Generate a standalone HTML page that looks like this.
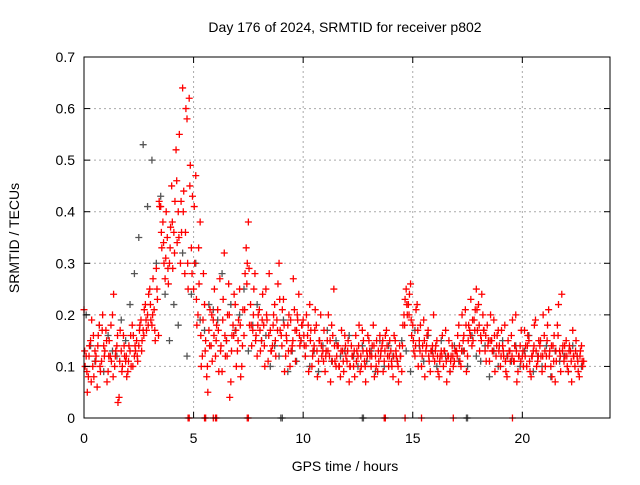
<!DOCTYPE html>
<html><head><meta charset="utf-8"><style>
body{margin:0;background:#fff;font-family:"Liberation Sans",sans-serif}
svg text{font-family:"Liberation Sans",sans-serif;font-size:14px;fill:#000}
</style></head><body>
<svg id="chart" width="640" height="480" xmlns="http://www.w3.org/2000/svg">
<rect width="640" height="480" fill="#fff"/>
<g id="grid"></g><g id="pts"></g><g id="axes"></g>
<text x="345" y="32" text-anchor="middle">Day 176 of 2024, SRMTID for receiver p802</text>
<text x="345" y="471" text-anchor="middle">GPS time / hours</text>
<text transform="translate(19,238) rotate(-90)" text-anchor="middle">SRMTID / TECUs</text>
</svg>
<script>
const xTicks=[0,5,10,15,20];
const yTicks=[0,0.1,0.2,0.3,0.4,0.5,0.6,0.7];
const yTickLabels=["0","0.1","0.2","0.3","0.4","0.5","0.6","0.7"];
const seriesAStart=0, seriesAStep=0.1;
const seriesA=[0.21,0.12,0.08,0.15,0.10,0.13,0.06,0.18,0.11,0.14,
0.17,0.09,0.12,0.20,0.10,0.14,0.04,0.13,0.16,0.11,
0.09,0.13,0.18,0.12,0.15,0.14,0.19,0.17,0.22,0.20,
0.25,0.18,0.21,0.29,0.16,0.41,0.38,0.27,0.35,0.30,
0.45,0.36,0.52,0.40,0.30,0.64,0.28,0.58,0.62,0.33,
0.25,0.47,0.20,0.38,0.12,0.22,0.08,0.17,0.14,0.19,
0.12,0.21,0.27,0.09,0.32,0.15,0.26,0.07,0.18,0.22,
0.13,0.25,0.10,0.16,0.33,0.38,0.22,0.17,0.28,0.12,
0.21,0.15,0.18,0.25,0.11,0.17,0.14,0.22,0.19,0.30,
0.16,0.23,0.12,0.18,0.10,0.14,0.21,0.17,0.24,0.15,
0.19,0.12,0.16,0.22,0.10,0.14,0.18,0.11,0.20,0.13,
0.09,0.15,0.12,0.18,0.25,0.10,0.14,0.08,0.13,0.16,
0.11,0.07,0.14,0.10,0.16,0.12,0.09,0.17,0.11,0.13,
0.15,0.10,0.18,0.12,0.09,0.16,0.14,0.11,0.17,0.10,
0.13,0.08,0.15,0.11,0.14,0.09,0.20,0.25,0.22,0.26,
0.18,0.12,0.22,0.15,0.10,0.19,0.13,0.17,0.09,0.14,
0.11,0.15,0.08,0.13,0.10,0.17,0.12,0.09,0.14,0.11,
0.13,0.18,0.10,0.15,0.21,0.12,0.17,0.14,0.19,0.25,
0.22,0.16,0.20,0.13,0.18,0.11,0.15,0.19,0.12,0.17,
0.10,0.14,0.18,0.08,0.13,0.16,0.11,0.20,0.09,0.14,
0.12,0.17,0.10,0.15,0.08,0.13,0.19,0.11,0.14,0.09,
0.16,0.12,0.21,0.10,0.14,0.07,0.18,0.13,0.24,0.11,
0.15,0.09,0.13,0.17,0.10,0.12,0.08,0.14,0.11];
const seriesBStart=0.05, seriesBStep=0.1;
const seriesB=[0.10,0.05,0.14,0.19,0.08,0.12,0.16,0.09,0.20,0.13,
0.07,0.15,0.11,0.24,0.13,0.03,0.17,0.10,0.12,0.08,
0.14,0.10,0.16,0.13,0.11,0.18,0.15,0.21,0.17,0.24,
0.19,0.27,0.15,0.23,0.41,0.33,0.30,0.40,0.26,0.37,
0.29,0.42,0.34,0.55,0.36,0.44,0.60,0.25,0.49,0.43,
0.30,0.18,0.26,0.10,0.28,0.15,0.05,0.21,0.11,0.25,
0.18,0.09,0.14,0.23,0.12,0.20,0.04,0.16,0.24,0.10,
0.19,0.08,0.21,0.28,0.30,0.18,0.14,0.25,0.16,0.20,
0.13,0.24,0.10,0.19,0.28,0.13,0.20,0.12,0.26,0.17,
0.21,0.09,0.15,0.20,0.13,0.27,0.11,0.19,0.14,0.18,
0.14,0.20,0.09,0.17,0.13,0.21,0.08,0.15,0.12,0.17,
0.13,0.20,0.07,0.16,0.11,0.14,0.10,0.17,0.09,0.12,
0.15,0.10,0.12,0.08,0.13,0.18,0.10,0.15,0.07,0.16,
0.12,0.14,0.08,0.15,0.11,0.13,0.09,0.16,0.12,0.15,
0.10,0.16,0.12,0.07,0.12,0.18,0.23,0.20,0.24,0.16,
0.13,0.21,0.10,0.18,0.14,0.08,0.16,0.11,0.13,0.20,
0.14,0.09,0.12,0.16,0.13,0.07,0.15,0.12,0.10,0.13,
0.16,0.11,0.20,0.13,0.09,0.18,0.23,0.15,0.21,0.17,
0.13,0.24,0.17,0.11,0.15,0.20,0.13,0.09,0.16,0.14,
0.17,0.12,0.09,0.15,0.11,0.19,0.14,0.07,0.12,0.17,
0.10,0.14,0.16,0.09,0.12,0.18,0.10,0.15,0.12,0.20,
0.10,0.18,0.13,0.08,0.16,0.11,0.22,0.09,0.14,0.12,
0.10,0.14,0.07,0.12,0.15,0.09,0.13,0.10];
const seriesCStart=0.03, seriesCStep=0.1;
const seriesC=[0.13,0.09,0.12,0.07,0.16,0.11,0.14,0.10,0.17,0.12,
0.15,0.12,0.18,0.08,0.12,0.16,0.11,0.09,0.14,0.12,
0.11,0.16,0.10,0.14,0.12,0.17,0.13,0.16,0.19,0.18,
0.22,0.20,0.17,0.25,0.42,0.36,0.34,0.31,0.29,0.33,
0.38,0.32,0.46,0.35,0.42,0.40,0.36,0.30,0.45,0.28,
0.41,0.23,0.33,0.16,0.19,0.13,0.10,0.14,0.20,0.16,
0.15,0.17,0.13,0.19,0.16,0.12,0.20,0.13,0.16,0.17,
0.15,0.18,0.14,0.21,0.26,0.29,0.18,0.20,0.15,0.18,
0.17,0.19,0.14,0.20,0.16,0.13,0.18,0.15,0.17,0.23,
0.14,0.18,0.16,0.13,0.19,0.15,0.17,0.20,0.16,0.18,
0.16,0.14,0.18,0.15,0.12,0.17,0.13,0.15,0.14,0.11,
0.12,0.13,0.15,0.11,0.14,0.12,0.10,0.13,0.11,0.14,
0.13,0.10,0.12,0.13,0.11,0.14,0.12,0.13,0.10,0.12,
0.13,0.12,0.14,0.10,0.13,0.12,0.15,0.13,0.14,0.12,
0.11,0.12,0.13,0.10,0.12,0.14,0.18,0.22,0.20,0.19,
0.15,0.14,0.17,0.13,0.12,0.15,0.14,0.12,0.13,0.12,
0.13,0.12,0.11,0.12,0.13,0.11,0.12,0.11,0.12,0.13,
0.12,0.14,0.13,0.16,0.18,0.15,0.16,0.19,0.17,0.21,
0.18,0.15,0.17,0.16,0.14,0.15,0.13,0.16,0.14,0.13,
0.12,0.13,0.11,0.12,0.13,0.12,0.11,0.13,0.12,0.11,
0.13,0.12,0.14,0.11,0.12,0.14,0.13,0.12,0.15,0.12,
0.13,0.15,0.12,0.14,0.11,0.13,0.16,0.12,0.13,0.14,
0.12,0.13,0.11,0.12,0.13,0.11,0.12,0.11];
const grayStart=0.1, grayStep=0.2;
const grayVals=[0.20,0.14,0.11,0.18,0.09,0.16,0.13,0.12,0.19,0.15,
0.22,0.28,0.35,0.53,0.41,0.50,0.30,0.43,0.24,0.15,
0.22,0.18,0.32,0.12,0.24,0.30,0.19,0.17,0.22,0.21,
0.19,0.28,0.15,0.22,0.17,0.20,0.25,0.13,0.18,0.22,
0.15,0.16,0.10,0.14,0.12,0.19,0.09,0.13,0.11,0.15,
0.12,0.10,0.13,0.09,0.14,0.17,0.11,0.15,0.12,0.13,
0.16,0.12,0.10,0.14,0.11,0.13,0.09,0.15,0.10,0.14,
0.12,0.11,0.15,0.13,0.09,0.17,0.14,0.11,0.16,0.13,
0.10,0.15,0.12,0.09,0.14,0.11,0.13,0.10,0.16,0.12,
0.11,0.14,0.08,0.13,0.10,0.15,0.12,0.11,0.14,0.10,
0.13,0.16,0.09,0.12,0.10,0.14,0.08,0.13,0.11,0.12,
0.09,0.14,0.12,0.10];
const zeroRed=[4.75,4.8,5.5,5.55,5.9,6.0,6.05,7.45,7.5,13.7,13.75,14.65,15.4,16.85,19.55];
const zeroGray=[8.98,9.05,12.7,12.75,17.45,17.5];

const X0=84,X1=610,Y0=418,Y1=57;
const xs=t=>X0+(t/24)*(X1-X0);
const ys=v=>Y0-(v/0.7)*(Y0-Y1);
const NS="http://www.w3.org/2000/svg";
function mk(tag,attrs,parent){const e=document.createElementNS(NS,tag);for(const k in attrs)e.setAttribute(k,attrs[k]);parent.appendChild(e);return e;}
const grid=document.getElementById('grid'),axes=document.getElementById('axes'),pts=document.getElementById('pts');
yTicks.forEach((v,i)=>{const y=ys(v);
 if(i>0&&i<yTicks.length-1){const g=mk('line',{x1:X0,x2:X1,y1:y,y2:y,stroke:'#aaa','stroke-dasharray':'2,3'},grid);
 
 }
 mk('line',{x1:X0,x2:X0+6,y1:y,y2:y,stroke:'#000'},axes);
 mk('line',{x1:X1,x2:X1-6,y1:y,y2:y,stroke:'#000'},axes);
 const t=mk('text',{x:X0-9,y:y+5,'text-anchor':'end'},axes);t.textContent=yTickLabels[i];
 
 });
xTicks.forEach(v=>{const x=xs(v);
 if(v>0){const g=mk('line',{x1:x,x2:x,y1:Y0,y2:Y1,stroke:'#aaa','stroke-dasharray':'2,3'},grid);
 
 }
 mk('line',{x1:x,x2:x,y1:Y0,y2:Y0-6,stroke:'#000'},axes);
 mk('line',{x1:x,x2:x,y1:Y1,y2:Y1+6,stroke:'#000'},axes);
 const t=mk('text',{x:x,y:Y0+25,'text-anchor':'middle'},axes);t.textContent=String(v);
 
 });
const fr=mk('rect',{x:X0,y:Y1,width:X1-X0,height:Y0-Y1,fill:'none',stroke:'#000'},axes);


function plus(t,v,color,name){const x=xs(t),y=ys(v);
 const p=mk('path',{d:`M${x-3.5} ${y}H${x+3.5}M${x} ${y-3.5}V${y+3.5}`,stroke:color,'stroke-width':1.3},pts);
 
 }
grayVals.forEach((v,i)=>plus(grayStart+i*grayStep,v,'#555','gray-point'));
seriesC.forEach((v,i)=>plus(seriesCStart+i*seriesCStep,v,'#f00','srmtid-point-c'));
seriesA.forEach((v,i)=>plus(seriesAStart+i*seriesAStep,v,'#f00','srmtid-point-a'));
seriesB.forEach((v,i)=>plus(seriesBStart+i*seriesBStep,v,'#f00','srmtid-point-b'));
zeroGray.forEach(t=>plus(t,0,'#555','gray-zero-point'));
zeroRed.forEach(t=>plus(t,0,'#f00','red-zero-point'));
</script>
</body></html>
